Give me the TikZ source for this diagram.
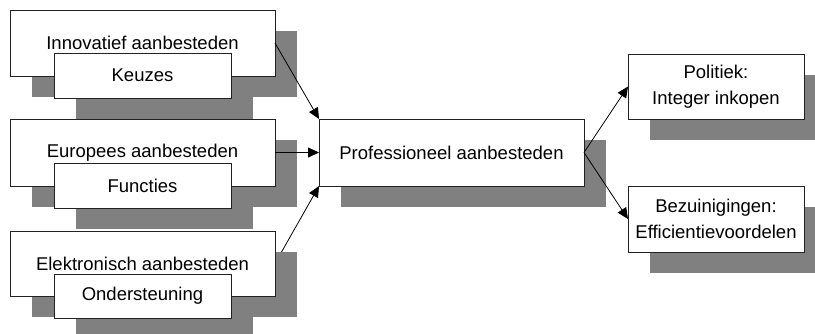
\documentclass[tikz,border=0pt]{standalone}
\usepackage{fontspec}
\setmainfont{Liberation Sans}
\usetikzlibrary{arrows.meta}
\pgfdeclarelayer{background}
\pgfsetlayers{background,main}
\definecolor{shadowgray}{HTML}{808080}
\definecolor{framegray}{HTML}{222222}
\begin{document}
\begin{tikzpicture}[x=1pt,y=-1pt,
  box/.style={draw=framegray, line width=0.9pt, fill=white, anchor=north west,
    inner sep=0pt, outer sep=0pt, align=center,
    font=\fontsize{18.5}{26}\selectfont},
  bigbox/.style={box, minimum width=265pt},
  smallbox/.style={box, minimum width=177pt},
  sidebox/.style={box, minimum width=176pt},
  link/.style={draw=black, line width=0.8pt, -{Triangle[length=11pt,width=10pt]}},
  shade/.style={fill=shadowgray, draw=none}]
\clip (0,0) rectangle (815,334);

% input groups: method box with its sub-box
\node[bigbox, minimum height=66pt] (inn) at (10,10) {Innovatief aanbesteden};
\node[smallbox, minimum height=45pt] (keu) at (54,53) {Keuzes};
\node[bigbox, minimum height=67pt] (eur) at (10,119) {Europees aanbesteden};
\node[smallbox, minimum height=45pt] (fun) at (54,163) {Functies};
\node[bigbox, minimum height=65pt] (ele) at (10,231) {Elektronisch aanbesteden};
\node[smallbox, minimum height=44pt] (ond) at (54,274) {Ondersteuning};

% central box and outcomes
\node[bigbox, minimum height=67pt] (pro) at (319,119) {Professioneel aanbesteden};
\node[sidebox, minimum height=65pt] (pol) at (628,54) {Politiek:\\Integer inkopen};
\node[sidebox, minimum height=66pt] (bez) at (628,186) {Bezuinigingen:\\Efficientievoordelen};

% connectors
\draw[link] (inn.east) -- (pro.north west);
\draw[link] (eur.east) -- (pro.west);
\draw[link] (pro.east) -- (pol.west);
\draw[link] (pro.east) -- (bez.west);

% page background, the lowest connector and the drop shadows behind the boxes
\begin{pgfonlayer}{background}
  \fill[white] (0,0) rectangle (815,334);
  \draw[link] (ele.east) -- (pro.south west);
  \foreach \n in {inn,keu,eur,fun,ele,ond,pro,pol,bez}{
    \fill[shade] ([shift={(22,21)}]\n.north west) rectangle ([shift={(22,21)}]\n.south east);
  }
\end{pgfonlayer}
\end{tikzpicture}
\end{document}
